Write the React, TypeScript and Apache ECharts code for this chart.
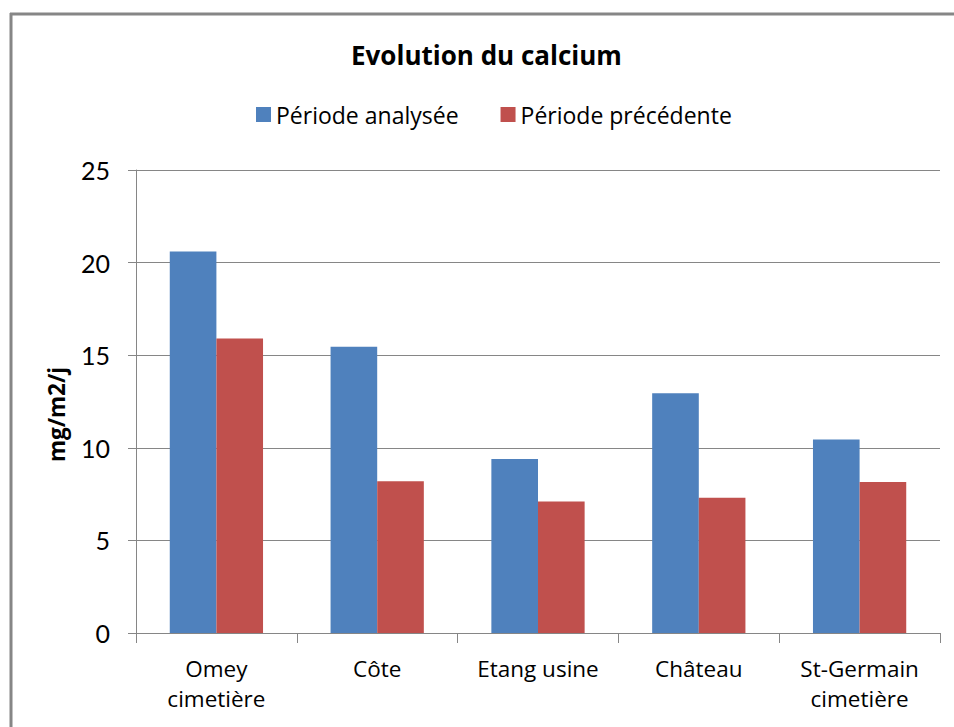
import React, { useEffect, useRef } from "react";
import * as echarts from "echarts";

const categories = ["Omey\ncimetière", "Côte", "Etang usine", "Château", "St-Germain\ncimetière"];
const periodeAnalysee = [20.6, 15.45, 9.4, 12.95, 10.45];
const periodePrecedente = [15.9, 8.2, 7.1, 7.3, 8.15];
const seriesNames = ["Période analysée", "Période précédente"];
const titleText = "Evolution du calcium";
const yAxisName = "mg/m2/j";

const FONT = "'Open Sans', 'Noto Sans', sans-serif";
const NUM_FONT = "Lato, 'Noto Sans', sans-serif";

export default function App() {
  const ref = useRef<HTMLDivElement>(null);
  useEffect(() => {
    if (!ref.current) return;
    const chart = echarts.init(ref.current, undefined, { renderer: "svg" });
    chart.setOption({
      animation: false,
      backgroundColor: "#ffffff",
      title: {
        text: titleText,
        left: 346,
        top: 37,
        textStyle: { fontFamily: FONT, fontSize: 26, fontWeight: "bold", color: "#000" },
      },
      legend: {
        top: 98,
        left: 251,
        itemWidth: 15,
        itemHeight: 15,
        itemGap: 42,
        icon: "rect",
        textStyle: { fontFamily: FONT, fontSize: 23, color: "#000" },
        data: seriesNames,
      },
      graphic: [
        {
          type: "line",
          shape: { x1: 10, y1: 14, x2: 954, y2: 14 },
          style: { stroke: "#868686", lineWidth: 3 },
          silent: true,
          z: 100,
        },
        {
          type: "line",
          shape: { x1: 11, y1: 13, x2: 11, y2: 727 },
          style: { stroke: "#868686", lineWidth: 3 },
          silent: true,
          z: 100,
        },
      ],
      grid: { left: 136, right: 14, top: 170, bottom: 94 },
      xAxis: {
        type: "category",
        data: categories,
        axisLine: { lineStyle: { color: "#868686", width: 1 } },
        axisTick: { show: true, length: 10, lineStyle: { color: "#868686" } },
        axisLabel: {
          fontFamily: FONT,
          fontSize: 22.5,
          color: "#000",
          lineHeight: 30,
          margin: 20,
          interval: 0,
        },
      },
      yAxis: {
        type: "value",
        min: 0,
        max: 25,
        interval: 5,
        name: yAxisName,
        nameLocation: "middle",
        nameRotate: 90,
        nameGap: 68,
        nameTextStyle: {
          fontFamily: FONT,
          fontSize: 22.5,
          fontWeight: "bold",
          color: "#000",
          padding: [0, 26, 0, 0],
        },
        axisLine: { show: true, lineStyle: { color: "#868686", width: 1 } },
        axisTick: { show: true, length: 8, lineStyle: { color: "#868686" } },
        splitLine: { lineStyle: { color: "#868686", width: 1 } },
        axisLabel: { fontFamily: NUM_FONT, fontSize: 25, color: "#000", margin: 26 },
      },
      series: [
        {
          name: seriesNames[0],
          type: "bar",
          data: periodeAnalysee,
          itemStyle: { color: "#4F81BD" },
          barGap: "0%",
          barCategoryGap: "42%",
        },
        {
          name: seriesNames[1],
          type: "bar",
          data: periodePrecedente,
          itemStyle: { color: "#C0504D" },
          barGap: "0%",
          barCategoryGap: "42%",
        },
      ],
    });
    return () => chart.dispose();
  }, []);
  return (
    <div
      ref={ref}
      style={{ position: "absolute", left: 0, top: 0, width: 954, height: 727 }}
    />
  );
}
